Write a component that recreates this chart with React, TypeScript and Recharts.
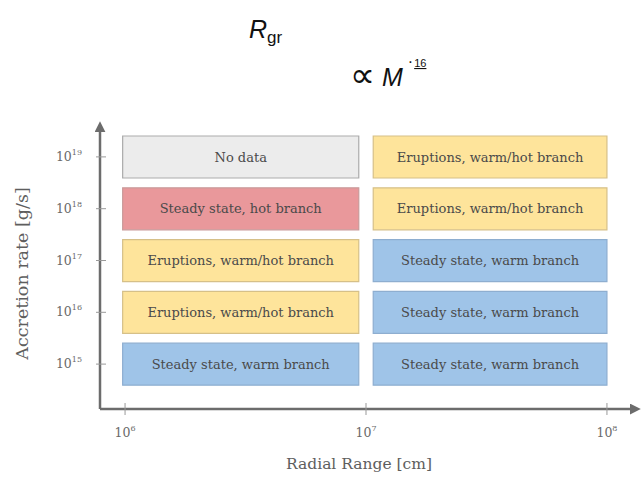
import React from 'react';
import { BarChart, Bar, XAxis, YAxis, LabelList, Cell } from 'recharts';

// accretion rate rows, top to bottom (log10 g/s)
const RATE_EXPONENTS = [19, 18, 17, 16, 15];
// radial range of each column, log10 cm
const INNER_RANGE: [number, number] = [5.99, 6.97];
const OUTER_RANGE: [number, number] = [7.03, 8.0];
const RADIUS_TICKS = [6, 7, 8];

const INNER_REGIME = [
  'No data',
  'Steady state, hot branch',
  'Eruptions, warm/hot branch',
  'Eruptions, warm/hot branch',
  'Steady state, warm branch',
];
const OUTER_REGIME = [
  'Eruptions, warm/hot branch',
  'Eruptions, warm/hot branch',
  'Steady state, warm branch',
  'Steady state, warm branch',
  'Steady state, warm branch',
];

const REGIME_STYLE: Record<string, { fill: string; stroke: string }> = {
  'No data': { fill: '#ececec', stroke: '#ababab' },
  'Steady state, hot branch': { fill: '#e9989b', stroke: '#c99a9a' },
  'Eruptions, warm/hot branch': { fill: '#fee49b', stroke: '#d6c088' },
  'Steady state, warm branch': { fill: '#9fc4e8', stroke: '#8eaed0' },
};

const SERIF = '"DejaVu Serif", "Liberation Serif", serif';
const SANS = "'Liberation Sans', Arial, sans-serif";
const AXIS = '#6c6c6c';

const data = RATE_EXPONENTS.map((exp, i) => ({
  rate: String(exp),
  inner: INNER_RANGE,
  outer: OUTER_RANGE,
  innerRegime: INNER_REGIME[i],
  outerRegime: OUTER_REGIME[i],
}));

const W = 641;
const H = 481;

function RateTick({ x, y, payload }: any) {
  return (
    <g>
      <line x1={x - 4} x2={x + 6} y1={y} y2={y} stroke="#999" strokeWidth={1} />
      <text x={x - 18} y={y + 4} textAnchor="end" fill="#6a6a6a" fontFamily={SERIF} fontSize={12.5}>
        10<tspan dy={-6} fontSize={8}>{payload.value}</tspan>
      </text>
    </g>
  );
}

function RadiusTick({ x, y, payload }: any) {
  return (
    <g>
      <line x1={x} x2={x} y1={y - 6} y2={y + 6} stroke="#999" strokeWidth={1} />
      <text x={x} y={y + 28} textAnchor="middle" fill="#6a6a6a" fontFamily={SERIF} fontSize={12.5}>
        10<tspan dy={-6} fontSize={8}>{payload.value}</tspan>
      </text>
    </g>
  );
}

function CellLabel({ x, y, width, height, value }: any) {
  return (
    <text
      x={x + width / 2}
      y={y + height / 2 + 4.5}
      textAnchor="middle"
      fill="#4a4a4a"
      fontFamily={SERIF}
      fontSize={13}
    >
      {value}
    </text>
  );
}

function RateAxisLabel({ viewBox }: any) {
  const cy = viewBox.y + viewBox.height / 2;
  return (
    <text
      x={0}
      y={0}
      transform={`translate(${viewBox.x - 18}, ${cy + 4}) rotate(-90)`}
      textAnchor="middle"
      dominantBaseline="central"
      fill="#5e5e5e"
      fontFamily={SERIF}
      fontSize={17.5}
    >
      Accretion rate [g/s]
    </text>
  );
}

export default function App() {
  return (
    <div style={{ position: 'absolute', left: 0, top: 0, width: W, height: H, background: '#fff' }}>
      <svg width={0} height={0} style={{ position: 'absolute' }}>
        <defs>
          <marker id="arrowHead" viewBox="0 0 10 10" refX={2} refY={5} markerWidth={11} markerHeight={11}
            markerUnits="userSpaceOnUse" orient="auto-start-reverse">
            <path d="M0,0 L10,5 L0,10 z" fill={AXIS} />
          </marker>
        </defs>
      </svg>

      <svg width={W} height={110} style={{ position: 'absolute', left: 0, top: 0 }}>
        <text x={249} y={38} fontFamily={SANS} fill="#111">
          <tspan fontStyle="italic" fontSize={25}>R</tspan>
          <tspan fontSize={17} dy={5}>gr</tspan>
        </text>
        <text x={350} y={87} fontFamily={SANS} fill="#111">
          <tspan fontSize={35}>∝</tspan>
          <tspan fontStyle="italic" fontSize={25} dx={7} dy={-1}>M</tspan>
          <tspan fontSize={16} dy={-19} dx={5}>·</tspan>
          <tspan fontSize={11} dy={0} dx={1} textDecoration="underline">16</tspan>
        </text>
      </svg>

      <BarChart
        width={W}
        height={H}
        data={data}
        layout="vertical"
        margin={{ top: 130, right: 9, bottom: 42, left: 40 }}
      >
        <XAxis
          type="number"
          domain={[5.896, 8.104]}
          ticks={RADIUS_TICKS}
          allowDataOverflow
          height={30}
          tickSize={0}
          tickMargin={0}
          tick={<RadiusTick />}
          axisLine={{ stroke: AXIS, strokeWidth: 2.5, markerEnd: 'url(#arrowHead)' }}
          label={{
            value: 'Radial Range [cm]',
            position: 'bottom',
            offset: 19,
            dx: -7,
            fill: '#5e5e5e',
            fontFamily: SERIF,
            fontSize: 15.5,
          }}
        />
        <YAxis
          yAxisId="inner"
          type="category"
          dataKey="rate"
          width={60}
          padding={{ top: 1, bottom: 19 }}
          tickSize={0}
          tickMargin={0}
          tick={<RateTick />}
          axisLine={{ stroke: AXIS, strokeWidth: 2.5, markerStart: 'url(#arrowHead)' }}
          label={<RateAxisLabel />}
        />
        <YAxis yAxisId="outer" type="category" dataKey="rate" hide width={0} padding={{ top: 1, bottom: 19 }} />

        <Bar yAxisId="inner" dataKey="inner" barSize={42} isAnimationActive={false} strokeWidth={1.2}>
          {data.map((d, i) => (
            <Cell key={i} fill={REGIME_STYLE[d.innerRegime].fill} stroke={REGIME_STYLE[d.innerRegime].stroke} />
          ))}
          <LabelList dataKey="innerRegime" content={<CellLabel />} />
        </Bar>
        <Bar yAxisId="outer" dataKey="outer" barSize={42} isAnimationActive={false} strokeWidth={1.2}>
          {data.map((d, i) => (
            <Cell key={i} fill={REGIME_STYLE[d.outerRegime].fill} stroke={REGIME_STYLE[d.outerRegime].stroke} />
          ))}
          <LabelList dataKey="outerRegime" content={<CellLabel />} />
        </Bar>
      </BarChart>
    </div>
  );
}
